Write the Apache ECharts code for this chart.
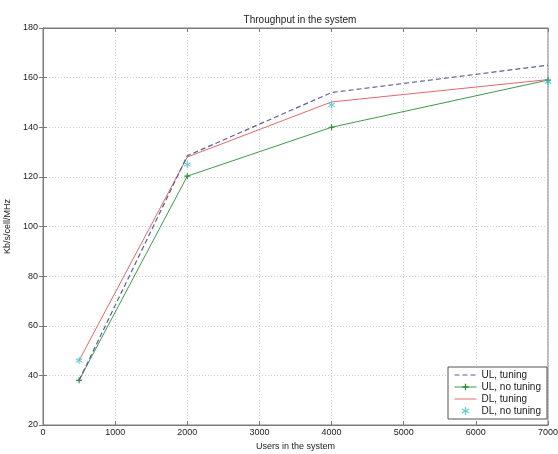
<!DOCTYPE html>
<html>
<head>
<meta charset="utf-8">
<script src="https://cdn.jsdelivr.net/npm/echarts@6/dist/echarts.min.js"></script>
<style>
  html, body { margin: 0; padding: 0; background: #fff; }
  #chart { width: 558px; height: 454px; }
</style>
</head>
<body>
<div id="chart"></div>
<script>
// data
const users = [500, 2000, 4000, 7000];
const ulTuning = [38, 128.5, 154, 165];
const ulNoTuning = [38, 120.3, 140, 159];
const dlTuning = [46, 128, 150.2, 159.2];
const dlNoTuning = [46, 125, 149, 158.3];
const xTicks = [0, 1000, 2000, 3000, 4000, 5000, 6000, 7000];
const yTicks = [20, 40, 60, 80, 100, 120, 140, 160, 180];

const pair = ys => users.map((u, i) => [u, ys[i]]);

const plusPath = 'path://M4,0H6V4H10V6H6V10H4V6H0V4H4Z';
const starPath = 'path://M4.3,0H5.7V3.3L8.6,1.6L9.3,2.8L6.4,4.3L9.3,5.8L8.6,7L5.7,5.3V8.6H4.3V5.3L1.4,7L0.7,5.8L3.6,4.3L0.7,2.8L1.4,1.6L4.3,3.3Z';
const clear = 'rgba(0,0,0,0)';

const font = 'Liberation Sans, Arial, sans-serif';
const axisCol = '#7a7a7a';
const textCol = '#222';
const ulCol = '#5a5f96';
const dlCol = '#e06a6a';

const chart = echarts.init(document.getElementById('chart'));
chart.setOption({
  animation: false,
  backgroundColor: '#fff',
  textStyle: { fontFamily: font },
  title: {
    text: 'Throughput in the system',
    left: 295, top: 10, textAlign: 'center',
    textStyle: { fontSize: 10, fontWeight: 'normal', color: textCol, fontFamily: font }
  },
  grid: {
    left: 43, right: 10, top: 28, bottom: 29,
    outerBoundsMode: 'none',
    show: true, borderColor: axisCol, borderWidth: 1
  },
  legend: {
    orient: 'vertical',
    left: 448, top: 367,
    width: 100,
    padding: [3, 6, 3, 6],
    itemGap: 2,
    itemWidth: 22, itemHeight: 8,
    backgroundColor: '#fff',
    borderColor: '#555', borderWidth: 1,
    lineStyle: { width: 1 },
    textStyle: { fontSize: 10, color: textCol, fontFamily: font },
    data: ['UL, tuning', 'UL, no tuning', 'DL, tuning', 'DL, no tuning']
  },
  xAxis: [{
    type: 'value', min: 0, max: 7000, interval: 1000,
    name: 'Users in the system', nameLocation: 'middle', nameGap: 16,
    nameTextStyle: { fontSize: 9, color: textCol },
    axisLine: { lineStyle: { color: axisCol } },
    axisTick: { inside: true, length: 4, lineStyle: { color: axisCol } },
    axisLabel: { fontSize: 9, color: textCol, margin: 3, formatter: v => xTicks.includes(v) ? String(v) : '' },
    splitLine: { show: true, lineStyle: { color: '#cfcfcf', type: [1, 2] } }
  }, {
    type: 'value', min: 0, max: 7000, interval: 1000, position: 'top',
    axisLine: { lineStyle: { color: axisCol } },
    axisTick: { inside: true, length: 4, lineStyle: { color: axisCol } },
    axisLabel: { show: false }, splitLine: { show: false }
  }],
  yAxis: [{
    type: 'value', min: 20, max: 180, interval: 20,
    name: 'Kb/s/cell/MHz', nameLocation: 'middle', nameGap: 27,
    nameTextStyle: { fontSize: 9, color: textCol },
    axisLine: { show: true, lineStyle: { color: axisCol } },
    axisTick: { show: true, inside: true, length: 4, lineStyle: { color: axisCol } },
    axisLabel: { fontSize: 9, color: textCol, margin: 5, formatter: v => yTicks.includes(v) ? String(v) : '' },
    splitLine: { show: true, lineStyle: { color: '#cfcfcf', type: [1, 2] } }
  }, {
    type: 'value', min: 20, max: 180, interval: 20, position: 'right',
    axisLine: { show: true, lineStyle: { color: axisCol } },
    axisTick: { show: true, inside: true, length: 4, lineStyle: { color: axisCol } },
    axisLabel: { show: false }, splitLine: { show: false }
  }],
  series: [{
    name: 'UL, tuning', type: 'line', data: pair(ulTuning),
    symbol: 'none', z: 4,
    lineStyle: { color: ulCol, width: 1.2, type: [5, 3] },
    itemStyle: { color: clear, borderColor: clear, borderWidth: 0 }
  }, {
    name: 'UL, no tuning', type: 'line', data: pair(ulNoTuning),
    symbol: plusPath, symbolSize: 6, z: 3,
    lineStyle: { color: '#3f9a4a', width: 1 },
    itemStyle: { color: '#2e8a3a' }
  }, {
    name: 'DL, tuning', type: 'line', data: pair(dlTuning),
    symbol: 'none', z: 3,
    lineStyle: { color: dlCol, width: 1 },
    itemStyle: { color: clear, borderColor: clear, borderWidth: 0 }
  }, {
    name: 'DL, no tuning', type: 'scatter', data: pair(dlNoTuning),
    symbol: starPath, symbolSize: 7, z: 5,
    itemStyle: { color: '#3cc4c4' }
  }]
});
</script>
</body>
</html>
